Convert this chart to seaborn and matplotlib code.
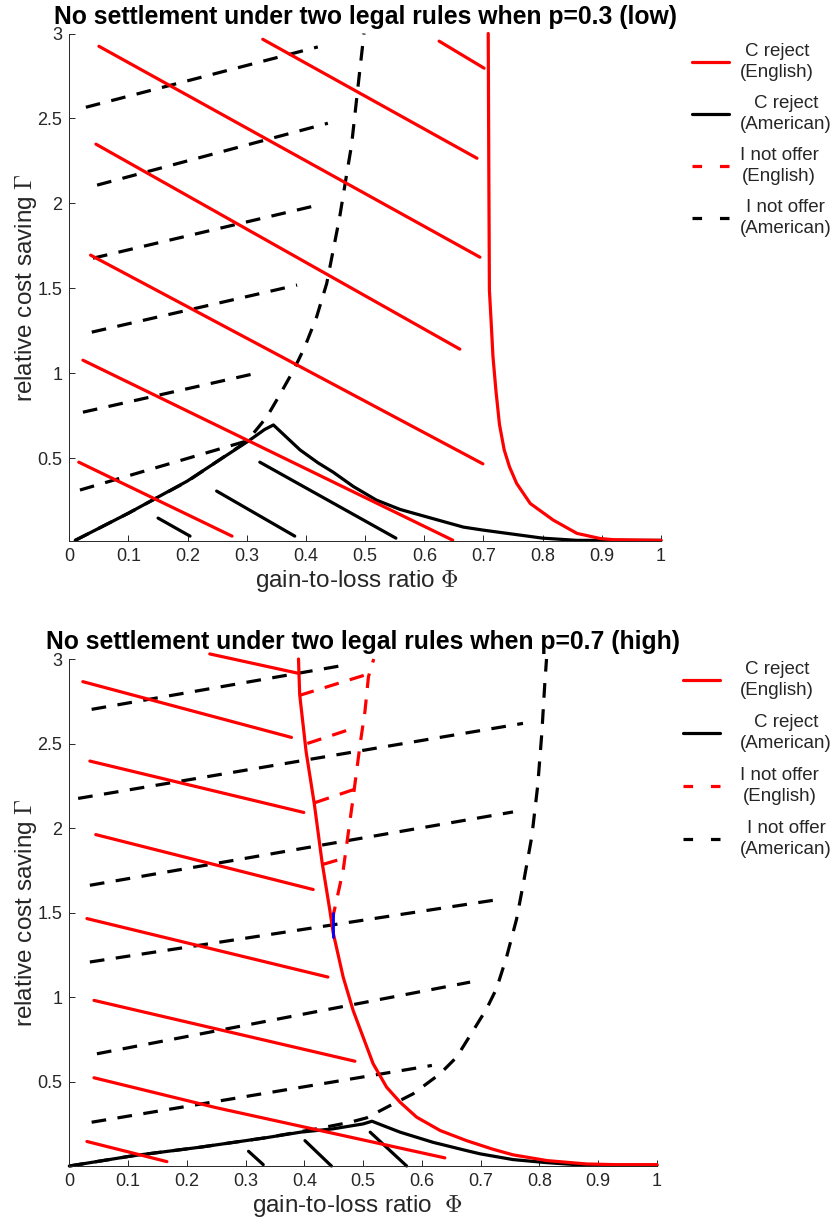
import matplotlib
matplotlib.use("Agg")
import matplotlib.pyplot as plt
import numpy as np
import pandas as pd
import seaborn as sns
from matplotlib.lines import Line2D

# ---------------- data (Phi = gain-to-loss ratio, Gamma = relative cost saving) ----------------
TITLES = ["No settlement under two legal rules when p=0.3 (low)",
          "No settlement under two legal rules when p=0.7 (high)"]
XLABELS = ["gain-to-loss ratio $\\Phi$", "gain-to-loss ratio  $\\Phi$"]
YLABEL = "relative cost saving $\\Gamma$"
LEGEND_LABELS = ["C reject\n(English)", "C reject\n(American)",
                 "I not offer\n(English)", "I not offer\n(American)"]
XTICKS = [0, 0.1, 0.2, 0.3, 0.4, 0.5, 0.6, 0.7, 0.8, 0.9, 1]
XTICKLABELS = ["0", "0.1", "0.2", "0.3", "0.4", "0.5", "0.6", "0.7", "0.8", "0.9", "1"]
YTICKS = [0.5, 1, 1.5, 2, 2.5, 3]
YTICKLABELS = ["0.5", "1", "1.5", "2", "2.5", "3"]

# ---- top panel (p = 0.3) ----
P1_RED_BOUND_X = [0.708, 0.709, 0.710, 0.713, 0.716, 0.721, 0.727, 0.735, 0.744, 0.756, 0.779, 0.818, 0.858, 0.897, 0.919, 1.0]
P1_RED_BOUND_Y = [3.0, 2.2, 1.49, 1.30, 1.10, 0.90, 0.70, 0.55, 0.45, 0.353, 0.235, 0.137, 0.059, 0.029, 0.022, 0.018]

P1_BLK_BOUND_X = [0.01, 0.1, 0.199, 0.305, 0.33, 0.345, 0.367, 0.39, 0.42, 0.446, 0.48, 0.519, 0.559, 0.60, 0.666, 0.70, 0.80, 0.858, 1.0]
P1_BLK_BOUND_Y = [0.018, 0.178, 0.366, 0.608, 0.67, 0.697, 0.625, 0.55, 0.475, 0.419, 0.335, 0.255, 0.20, 0.16, 0.096, 0.078, 0.031, 0.018, 0.018]

P1_BLKD_BOUND_X = [0.01, 0.1, 0.2, 0.3, 0.334, 0.355, 0.379, 0.398, 0.418, 0.435, 0.446, 0.457, 0.468, 0.477, 0.486, 0.491, 0.498]
P1_BLKD_BOUND_Y = [0.018, 0.178, 0.366, 0.60, 0.745, 0.87, 1.019, 1.156, 1.333, 1.529, 1.725, 1.921, 2.156, 2.343, 2.627, 2.784, 3.0]

P1_RED_HATCH_X = [[0.050, 0.694], [0.327, 0.689], [0.045, 0.660], [0.036, 0.699],
                  [0.023, 0.648], [0.016, 0.275], [0.625, 0.701]]
P1_RED_HATCH_Y = [[2.925, 1.684], [2.966, 2.266], [2.349, 1.143], [1.696, 0.468],
                  [1.078, 0.019], [0.478, 0.043], [2.955, 2.796]]

P1_BLK_HATCH_X = [[0.150, 0.204], [0.249, 0.381], [0.322, 0.552]]
P1_BLK_HATCH_Y = [[0.149, 0.043], [0.308, 0.043], [0.478, 0.031]]

P1_BLKD_HATCH_X = [[0.028, 0.420], [0.047, 0.437], [0.040, 0.427], [0.038, 0.385],
                   [0.023, 0.322], [0.018, 0.305]]
P1_BLKD_HATCH_Y = [[2.566, 2.921], [2.108, 2.472], [1.678, 1.996], [1.243, 1.520],
                   [0.772, 1.006], [0.314, 0.608]]

# ---- bottom panel (p = 0.7) ----
P2_RED_BOUND_X = [0.390, 0.392, 0.403, 0.417, 0.430, 0.443, 0.449, 0.466, 0.483, 0.497, 0.517, 0.540,
                  0.563, 0.591, 0.631, 0.676, 0.72, 0.755, 0.813, 0.88, 0.93, 1.0]
P2_RED_BOUND_Y = [3.0, 2.79, 2.45, 2.14, 1.80, 1.52, 1.38, 1.118, 0.92, 0.79, 0.605, 0.466,
                  0.377, 0.289, 0.21, 0.15, 0.10, 0.066, 0.032, 0.012, 0.008, 0.008]

P2_REDD_BOUND_X = [0.447, 0.466, 0.483, 0.495, 0.503, 0.509, 0.518]
P2_REDD_BOUND_Y = [1.45, 1.75, 2.18, 2.50, 2.688, 2.895, 3.0]

P2_BLK_BOUND_X = [0.0, 0.109, 0.222, 0.336, 0.393, 0.449, 0.50, 0.515, 0.534, 0.563, 0.619, 0.676,
                  0.699, 0.755, 0.812, 0.88, 1.0]
P2_BLK_BOUND_Y = [0.0, 0.061, 0.111, 0.168, 0.20, 0.22, 0.249, 0.265, 0.239, 0.20, 0.14, 0.091,
                  0.072, 0.038, 0.02, 0.004, 0.004]

P2_BLKD_BOUND_X = [0.0, 0.109, 0.222, 0.336, 0.421, 0.478, 0.506, 0.546, 0.585, 0.631, 0.659, 0.687,
                   0.71, 0.727, 0.744, 0.761, 0.773, 0.787, 0.797, 0.804, 0.809, 0.812]
P2_BLKD_BOUND_Y = [0.0, 0.061, 0.111, 0.168, 0.22, 0.259, 0.285, 0.358, 0.427, 0.546, 0.644, 0.80,
                   0.93, 1.05, 1.236, 1.46, 1.68, 1.95, 2.25, 2.56, 2.85, 3.0]

P2_RED_HATCH_X = [[0.239, 0.389], [0.023, 0.378], [0.035, 0.399], [0.045, 0.415],
                  [0.030, 0.440], [0.042, 0.486], [0.042, 0.25, 0.639], [0.030, 0.166]]
P2_RED_HATCH_Y = [[3.03, 2.916], [2.866, 2.536], [2.396, 2.092], [1.961, 1.636],
                  [1.464, 1.118], [0.980, 0.620], [0.522, 0.345, 0.048], [0.145, 0.026]]

P2_REDD_HATCH_X = [[0.392, 0.503], [0.405, 0.483], [0.418, 0.486], [0.432, 0.466]]
P2_REDD_HATCH_Y = [[2.785, 2.905], [2.50, 2.59], [2.15, 2.23], [1.785, 1.82]]

P2_BLK_HATCH_X = [[0.305, 0.330], [0.401, 0.446], [0.512, 0.574]]
P2_BLK_HATCH_Y = [[0.087, 0.008], [0.150, 0.0], [0.200, 0.0]]

P2_BLKD_HATCH_X = [[0.038, 0.469], [0.015, 0.772], [0.035, 0.755], [0.035, 0.721],
                   [0.047, 0.682], [0.038, 0.617]]
P2_BLKD_HATCH_Y = [[2.702, 2.964], [2.175, 2.619], [1.661, 2.095], [1.207, 1.572],
                   [0.664, 1.088], [0.259, 0.595]]

P2_BLUE_X = [0.449, 0.449]
P2_BLUE_Y = [1.495, 1.353]

# ---------------- style ----------------
sns.set_theme(style="ticks")
plt.rcParams["font.family"] = ["Liberation Sans", "DejaVu Sans"]
plt.rcParams["mathtext.fontset"] = "cm"

RED = "#ff0000"
BLACK = "#000000"
LW = 2.3
DASH = (0, (4.6, 3.6))
GRAY = "#262626"


def draw(ax, xs_list, ys_list, color, ls="-", lw=LW):
    rows = []
    for i, (xs, ys) in enumerate(zip(xs_list, ys_list)):
        for k, (x, y) in enumerate(zip(xs, ys)):
            rows.append((i, k, x, y))
    df = pd.DataFrame(rows, columns=["seg", "k", "x", "y"])
    sns.lineplot(data=df, x="x", y="y", units="seg", estimator=None, sort=False,
                 color=color, linewidth=lw, linestyle=ls, ax=ax, legend=False,
                 clip_on=False)


fig = plt.figure(figsize=(8.36, 12.26), dpi=100)
ax1 = fig.add_axes([69.3 / 836, 1 - 540.7 / 1226, (661 - 69.3) / 836, (540.7 - 33.5) / 1226])
ax2 = fig.add_axes([69.3 / 836, 1 - 1166 / 1226, (657 - 69.3) / 836, (1166 - 659) / 1226])

# top panel
draw(ax1, P1_BLKD_HATCH_X, P1_BLKD_HATCH_Y, BLACK, DASH)
draw(ax1, [P1_BLKD_BOUND_X], [P1_BLKD_BOUND_Y], BLACK, DASH)
draw(ax1, P1_BLK_HATCH_X, P1_BLK_HATCH_Y, BLACK)
draw(ax1, [P1_BLK_BOUND_X], [P1_BLK_BOUND_Y], BLACK)
draw(ax1, P1_RED_HATCH_X, P1_RED_HATCH_Y, RED)
draw(ax1, [P1_RED_BOUND_X], [P1_RED_BOUND_Y], RED)

# bottom panel
draw(ax2, P2_BLKD_HATCH_X, P2_BLKD_HATCH_Y, BLACK, DASH)
draw(ax2, [P2_BLKD_BOUND_X], [P2_BLKD_BOUND_Y], BLACK, DASH)
draw(ax2, P2_BLK_HATCH_X, P2_BLK_HATCH_Y, BLACK)
draw(ax2, [P2_BLK_BOUND_X], [P2_BLK_BOUND_Y], BLACK)
draw(ax2, P2_RED_HATCH_X, P2_RED_HATCH_Y, RED)
draw(ax2, P2_REDD_HATCH_X, P2_REDD_HATCH_Y, RED, DASH)
draw(ax2, [P2_REDD_BOUND_X], [P2_REDD_BOUND_Y], RED, DASH)
draw(ax2, [P2_RED_BOUND_X], [P2_RED_BOUND_Y], RED)
draw(ax2, [P2_BLUE_X], [P2_BLUE_Y], "#0000ff", "-", 2.0)

YLOWS = [0.016, 0.0]
XLAB_X = [0.486, 0.490]
# (left x, top y in figure fraction, labelspacing, handletextpad)
LEG_POS = [(692 / 836, 1 - 43 / 1226, 0.76, 0.6),
           (683 / 836, 1 - 661 / 1226, 0.80, 1.1)]

handles = [Line2D([], [], color=RED, lw=LW),
           Line2D([], [], color=BLACK, lw=LW),
           Line2D([], [], color=RED, lw=LW, linestyle=(0, (3.0, 5.6))),
           Line2D([], [], color=BLACK, lw=LW, linestyle=(0, (3.0, 5.6)))]

for i, ax in enumerate([ax1, ax2]):
    ax.set_xlim(0, 1)
    ax.set_ylim(YLOWS[i], 3)
    ax.set_xticks(XTICKS)
    ax.set_xticklabels(XTICKLABELS)
    ax.set_yticks(YTICKS)
    ax.set_yticklabels(YTICKLABELS)
    ax.tick_params(direction="in", length=4, width=0.7, colors=GRAY, labelsize=13, pad=5)
    for side in ["top", "right"]:
        ax.spines[side].set_visible(False)
    for side in ["left", "bottom"]:
        ax.spines[side].set_color(GRAY)
        ax.spines[side].set_linewidth(0.7)
    ax.set_title(TITLES[i], fontsize=17.8, fontweight="bold", pad=7, color="black")
    ax.set_xlabel(XLABELS[i], fontsize=17.5, color=GRAY)
    ax.set_ylabel(YLABEL, fontsize=17.5, color=GRAY)
    ax.xaxis.set_label_coords(XLAB_X[i], -0.054)
    ax.yaxis.set_label_coords(-0.052, 0.5)
    lx, ly, lsp, htp = LEG_POS[i]
    leg = ax.legend(handles, LEGEND_LABELS, loc="upper left", bbox_to_anchor=(lx, ly),
                    bbox_transform=fig.transFigure, frameon=False, fontsize=13.5,
                    handlelength=1.95, handletextpad=htp, labelspacing=lsp, borderpad=0,
                    borderaxespad=0)
    for t in leg.get_texts():
        t.set_multialignment("center")
        t.set_linespacing(1.3)
        t.set_color(GRAY)

fig.savefig("out.png", dpi=100, facecolor="white")
